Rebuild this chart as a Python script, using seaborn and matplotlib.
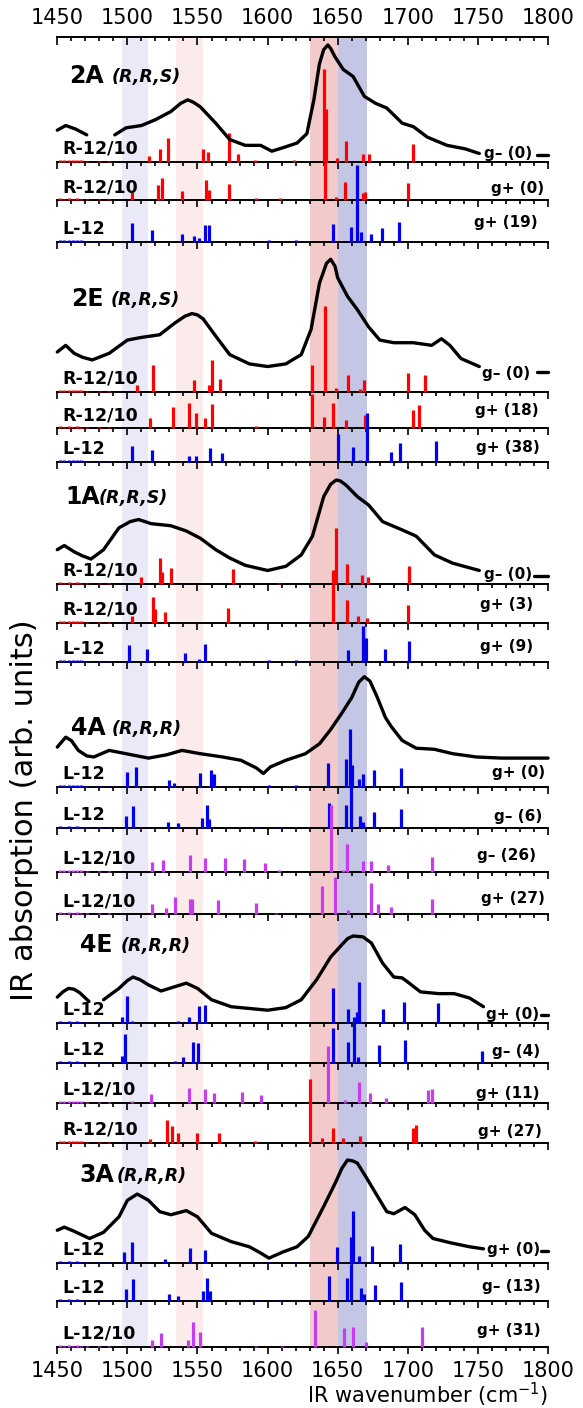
import matplotlib
matplotlib.use("Agg")
import matplotlib.pyplot as plt
from matplotlib.ticker import MultipleLocator
import numpy as np
import pandas as pd
import seaborn as sns

W, H = 583, 1408
X0, X1 = 57.3, 548.0          # pixel position of 1450 and 1800
TOP_AXIS, BOTTOM_AXIS = 36.7, 1347.0
NAN = np.nan

# shaded regions (cm-1)
BAND_LO = [1496, 1535, 1630, 1650]
BAND_HI = [1515, 1554, 1650, 1671]
BAND_COLORS = ["#e9e9f7", "#fcebeb", "#f3caca", "#c3c6e4"]

# weak modes below 1490 cm-1 that show up as a dotted baseline
NOISE = [(1452, 2), (1455, 1.5), (1458, 2), (1461, 1.5), (1464, 2), (1467, 1.5),
         (1471, 1), (1480, 1), (1487, 1)]

RED, BLUE, MAGENTA = "#ff0000", "#0000ee", "#c83cf0"

# ---- experimental spectra (normalised, NaN = gap) ----
X_2A = [1450, 1456, 1463, 1471, NAN, 1491, 1499, 1510, 1520, 1531, 1538, 1543, 1547, 1552,
        1563, 1573, 1584, 1595, 1603, 1611, 1621, 1628, 1633, 1637, 1640, 1643, 1645, 1648,
        1654, 1661, 1669, 1677, 1685, 1696, 1704, 1714, 1728, 1741, 1751, NAN, 1792, 1800]
Y_2A = [0.27, 0.31, 0.28, 0.23, NAN, 0.23, 0.29, 0.31, 0.36, 0.43, 0.50, 0.53, 0.51, 0.47,
        0.33, 0.19, 0.14, 0.14, 0.09, 0.12, 0.16, 0.24, 0.53, 0.84, 0.96, 1.0, 0.97, 0.90,
        0.79, 0.73, 0.56, 0.50, 0.46, 0.33, 0.30, 0.21, 0.14, 0.11, 0.07, NAN, 0.06, 0.06]

X_2E = [1450, 1456, 1462, 1468, 1475, 1487, 1500, 1510, 1523, 1534, 1541, 1546, 1550, 1554,
        1563, 1573, 1587, 1600, 1613, 1624, 1631, 1637, 1642, 1645, 1648, 1650, 1657, 1664,
        1672, 1680, 1690, 1704, 1717, 1724, 1730, 1738, 1751, NAN, 1792, 1800]
Y_2E = [0.30, 0.35, 0.29, 0.26, 0.24, 0.29, 0.39, 0.41, 0.43, 0.52, 0.57, 0.59, 0.58, 0.55,
        0.42, 0.28, 0.21, 0.19, 0.21, 0.28, 0.47, 0.82, 0.97, 1.0, 0.95, 0.86, 0.72, 0.62,
        0.49, 0.39, 0.37, 0.37, 0.35, 0.40, 0.35, 0.25, 0.19, NAN, 0.15, 0.15]

X_1A = [1450, 1455, 1462, 1468, 1474, 1483, 1494, 1502, 1508, 1517, 1531, 1542, 1552, 1563,
        1573, 1584, 1600, 1613, 1624, 1632, 1640, 1645, 1649, 1652, 1656, 1664, 1672, 1682,
        1696, 1706, 1719, 1732, 1751, NAN, 1790, 1800]
Y_1A = [0.33, 0.37, 0.31, 0.27, 0.24, 0.33, 0.54, 0.60, 0.62, 0.58, 0.56, 0.51, 0.44, 0.33,
        0.25, 0.18, 0.13, 0.17, 0.28, 0.46, 0.84, 0.96, 1.0, 0.99, 0.95, 0.84, 0.76, 0.60,
        0.52, 0.46, 0.28, 0.20, 0.13, NAN, 0.08, 0.08]

X_4A = [1450, 1456, 1460, 1465, 1471, 1476, 1487, 1499, 1515, 1528, 1539, 1552, 1568, 1581,
        1592, 1597, 1602, 1613, 1627, 1637, 1645, 1653, 1660, 1665, 1669, 1673, 1678, 1684,
        1688, 1696, 1706, 1719, 1732, 1749, 1767, 1800]
Y_4A = [0.36, 0.45, 0.42, 0.33, 0.28, 0.27, 0.33, 0.30, 0.26, 0.29, 0.33, 0.30, 0.27, 0.24,
        0.17, 0.12, 0.18, 0.24, 0.30, 0.39, 0.52, 0.67, 0.81, 0.95, 1.0, 0.96, 0.82, 0.63,
        0.55, 0.42, 0.35, 0.34, 0.30, 0.27, 0.26, 0.26]

X_4E = [1450, 1454, 1458, 1462, 1466, 1472.6, NAN, 1483, 1494, 1500, 1504, 1509, 1515, 1524,
        1534, 1542, 1550, 1560, 1574, 1587, 1600, 1613, 1624, 1635, 1645, 1653, 1657, 1661,
        1668, 1674, 1682, 1690, 1696, 1701, 1709, 1722, 1733, 1744, 1754, NAN, 1795, 1800]
Y_4E = [0.30, 0.36, 0.40, 0.39, 0.35, 0.25, NAN, 0.27, 0.40, 0.49, 0.53, 0.50, 0.44, 0.37,
        0.42, 0.46, 0.40, 0.27, 0.19, 0.17, 0.15, 0.18, 0.27, 0.50, 0.76, 0.90, 0.97, 1.0,
        0.99, 0.92, 0.69, 0.53, 0.52, 0.46, 0.36, 0.34, 0.34, 0.29, 0.19, NAN, 0.10, 0.10]

X_3A = [1450, 1455, 1462, 1473, 1483, 1494, 1500, 1507, 1515, 1523, 1531, 1542, 1550, 1560,
        1574, 1587, 1595, 1601, 1611, 1621, 1629, 1640, 1648, 1653, 1657, 1661, 1664, 1670,
        1677, 1685, 1690, 1698, 1705, 1712, 1718, 1730, 1744, 1754, NAN, 1795, 1800]
Y_3A = [0.32, 0.35, 0.31, 0.24, 0.30, 0.45, 0.61, 0.67, 0.61, 0.50, 0.47, 0.51, 0.45, 0.29,
        0.21, 0.16, 0.10, 0.05, 0.11, 0.16, 0.26, 0.55, 0.77, 0.92, 1.0, 0.99, 0.97, 0.84,
        0.68, 0.50, 0.48, 0.54, 0.47, 0.32, 0.24, 0.20, 0.16, 0.14, NAN, 0.12, 0.12]

# ---- computed stick spectra (wavenumber, intensity) ----
S_2A_1 = [(1515.6, 6), (1523, 13), (1529, 24), (1553.6, 13), (1557.6, 10), (1572.7, 29),
          (1578.8, 8), (1591, 2), (1619, 2), (1640, 93), (1642, 53), (1649.5, 4), (1656, 21),
          (1667.8, 8), (1672.6, 8), (1703.6, 18)]
S_2A_2 = [(1503, 8), (1521.7, 15), (1525, 22), (1539, 9), (1556, 20), (1558, 10), (1572.4, 16),
          (1592, 2), (1609, 2), (1641, 40), (1649, 3), (1655, 18), (1667.8, 7), (1669.6, 8),
          (1700, 17)]
S_2A_3 = [(1503.6, 19), (1517.7, 12), (1539, 8), (1547.7, 6), (1551, 4), (1555.7, 17),
          (1558.4, 17), (1601, 2), (1620, 2), (1646.5, 18), (1659.8, 15), (1663.7, 77),
          (1666.5, 10), (1674, 8), (1681.8, 14), (1694, 20)]

S_2E_1 = [(1507, 7), (1518.5, 27), (1547.7, 12), (1558, 7), (1560, 32), (1566, 13), (1632, 27),
          (1641, 86), (1649, 4), (1657, 17), (1666, 3), (1669, 12), (1700, 19), (1712, 17)]
S_2E_2 = [(1516, 10), (1532.6, 21), (1543.8, 25), (1549, 15), (1555, 10), (1560.5, 24),
          (1591.5, 2), (1632, 34), (1640, 11), (1647, 25), (1656, 8), (1669.6, 13), (1704, 18),
          (1708, 23)]
S_2E_3 = [(1503, 16), (1517.5, 12), (1544, 6), (1549, 6), (1559, 14), (1567.7, 9), (1650, 28),
          (1661, 15), (1666, 2), (1671, 49), (1688, 10), (1694.6, 19), (1720, 21)]

S_1A_1 = [(1510, 7), (1523, 26), (1525, 12), (1531, 16), (1575, 15), (1608, 1.5), (1647, 14),
          (1648.6, 56), (1656.6, 20), (1667, 9), (1671.8, 7), (1701, 18)]
S_1A_2 = [(1503, 7), (1518, 26), (1520, 14), (1527, 11), (1572, 15), (1647, 39), (1656.8, 23),
          (1664.6, 7), (1670.7, 5), (1700, 18)]
S_1A_3 = [(1501, 17), (1513.7, 13), (1541, 9), (1551, 3), (1555.4, 18), (1601, 1.5),
          (1620, 1.5), (1657, 12), (1667.8, 36), (1670.4, 24), (1684, 13), (1701, 21)]

S_4A_1 = [(1500, 15), (1505.8, 20), (1530, 7), (1533.5, 4), (1551.7, 14), (1559.4, 17),
          (1562, 13), (1601, 1.5), (1620, 1.5), (1643, 24), (1655.8, 28), (1658.5, 58),
          (1660, 22), (1665, 8), (1668, 13), (1675.7, 17), (1695, 19)]
S_4A_2 = [(1499, 12), (1504, 22), (1529, 6), (1536, 5), (1553, 10), (1556.5, 23), (1558, 9),
          (1592, 1.5), (1609, 1.5), (1643.6, 25), (1656, 23), (1659.5, 42), (1665.6, 12),
          (1668, 6), (1676, 16), (1695, 19)]
S_4A_3 = [(1517.7, 10), (1525.7, 12), (1544.8, 17), (1555, 14), (1569.5, 14), (1583, 13),
          (1598.5, 9), (1608, 1.5), (1645, 67), (1654, 2), (1656.6, 28), (1667.8, 11),
          (1674, 11), (1686, 7), (1717, 15)]
S_4A_4 = [(1517.7, 10), (1527.3, 6), (1534, 17), (1544.8, 15), (1546, 15), (1564.5, 14),
          (1592, 11), (1606, 1.5), (1638.5, 28), (1648, 37), (1657, 4), (1673.9, 31),
          (1679, 10), (1688, 7), (1717, 15)]

S_4E_1 = [(1496, 6), (1499.6, 27), (1503, 2), (1536, 2), (1544, 6), (1551, 17), (1555.5, 18),
          (1647, 35), (1657.7, 14), (1661.7, 6), (1663.8, 11), (1665.4, 41), (1682.4, 14),
          (1697, 21), (1721.4, 20)]
S_4E_2 = [(1496.5, 7), (1498.6, 29), (1533.6, 2), (1539.8, 6), (1546.7, 21), (1550.4, 20),
          (1647, 35), (1657.7, 21), (1661.4, 40), (1664.3, 6), (1679.7, 18), (1697.7, 23),
          (1753, 12)]
S_4E_3 = [(1503, 1.5), (1517, 9), (1544, 15), (1555.7, 14), (1562, 10), (1582, 11),
          (1595.5, 8), (1643, 57), (1655.4, 3), (1665.5, 21), (1673, 10), (1684.5, 5),
          (1714.7, 13), (1717, 14)]
S_4E_4 = [(1516, 4), (1528, 23), (1531.5, 17), (1536, 10), (1550, 10), (1565.5, 10),
          (1591, 1.5), (1630, 64), (1639, 5), (1646.5, 15), (1654, 5), (1666, 7), (1704, 15),
          (1705.5, 18)]

S_3A_1 = [(1497.8, 11), (1503, 21), (1527, 4), (1544.3, 15), (1555, 13), (1601, 1.5),
          (1620, 1.5), (1649.7, 16), (1659.3, 26), (1660.6, 52), (1665.4, 7), (1674.4, 17),
          (1694.3, 19)]
S_3A_2 = [(1499, 12), (1504, 22), (1529.7, 7), (1536.3, 5), (1553.6, 10), (1556.8, 23),
          (1559, 10), (1592, 1.5), (1609, 1.5), (1644, 25), (1656.3, 23), (1659.5, 37),
          (1666.5, 13), (1669, 7), (1676.3, 16), (1695, 19)]
S_3A_3 = [(1517.7, 7), (1523.8, 14), (1543.5, 7), (1547, 25), (1551.7, 15), (1592, 1.5),
          (1610, 1.5), (1633.5, 37), (1654.7, 19), (1661, 20), (1670, 5), (1710, 20)]

# panel: name, configuration, curve, rows (label, conformer, color, sticks)
PANELS = [
    ("2A", "(R,R,S)", X_2A, Y_2A, [
        ("R-12/10", "g\u2013 (0)", RED, S_2A_1),
        ("R-12/10", "g+ (0)", RED, S_2A_2),
        ("L-12", "g+ (19)", BLUE, S_2A_3)]),
    ("2E", "(R,R,S)", X_2E, Y_2E, [
        ("R-12/10", "g\u2013 (0)", RED, S_2E_1),
        ("R-12/10", "g+ (18)", RED, S_2E_2),
        ("L-12", "g+ (38)", BLUE, S_2E_3)]),
    ("1A", "(R,R,S)", X_1A, Y_1A, [
        ("R-12/10", "g\u2013 (0)", RED, S_1A_1),
        ("R-12/10", "g+ (3)", RED, S_1A_2),
        ("L-12", "g+ (9)", BLUE, S_1A_3)]),
    ("4A", "(R,R,R)", X_4A, Y_4A, [
        ("L-12", "g+ (0)", BLUE, S_4A_1),
        ("L-12", "g\u2013 (6)", BLUE, S_4A_2),
        ("L-12/10", "g\u2013 (26)", MAGENTA, S_4A_3),
        ("L-12/10", "g+ (27)", MAGENTA, S_4A_4)]),
    ("4E", "(R,R,R)", X_4E, Y_4E, [
        ("L-12", "g+ (0)", BLUE, S_4E_1),
        ("L-12", "g\u2013 (4)", BLUE, S_4E_2),
        ("L-12/10", "g+ (11)", MAGENTA, S_4E_3),
        ("R-12/10", "g+ (27)", RED, S_4E_4)]),
    ("3A", "(R,R,R)", X_3A, Y_3A, [
        ("L-12", "g+ (0)", BLUE, S_3A_1),
        ("L-12", "g\u2013 (13)", BLUE, S_3A_2),
        ("L-12/10", "g+ (31)", MAGENTA, S_3A_3)]),
]

# ---- layout (pixels from top-left) ----
PEAK_Y = [45, 259.3, 480, 676.7, 936, 1160]
BASELINES = [[161.7, 200, 241.7], [391.7, 428, 461.7], [584, 622.7, 661.7],
             [786.7, 828.3, 871.7, 914], [1023.3, 1063.3, 1102.7, 1142.7],
             [1263.3, 1301, 1347]]
TITLE_POS = [(69, 112, 76), (71, 111, 299), (65, 99, 497), (71, 112, 728), (80, 121, 945),
             (79, 117, 1175)]
RIGHT_X = [[532, 544, 538], [530, 539, 540], [532, 533, 533], [545, 542, 536, 545],
           [539, 540, 539, 542], [540, 541, 541]]
RIGHT_DY = [[8, 12, 19], [18, 18, 14], [10, 18, 15], [14, 12, 16, 16], [9, 12, 9, 11],
            [14, 14, 16]]

sns.set_style("ticks")
plt.rcParams["font.family"] = ["DejaVu Sans"]
plt.rcParams.update({"text.color": "black", "axes.edgecolor": "black",
                     "xtick.color": "black", "axes.labelcolor": "black"})


def fx(px):
    return px / W


def fy(py):
    return 1 - py / H


def rect(top, bottom):
    return [fx(X0), fy(bottom), (X1 - X0) / W, (bottom - top) / H]


def xaxis_style(ax):
    ax.set_xlim(1450, 1800)
    ax.xaxis.set_major_locator(MultipleLocator(50))
    ax.xaxis.set_minor_locator(MultipleLocator(10))


fig = plt.figure(figsize=(W / 100, H / 100), dpi=100)

# background: bands + top axis
bg = fig.add_axes(rect(TOP_AXIS, BOTTOM_AXIS))
bg.patch.set_alpha(0)
xaxis_style(bg)
for lo, hi, c in zip(BAND_LO, BAND_HI, BAND_COLORS):
    bg.axvspan(lo, hi, color=c, lw=0, zorder=0)
bg.set_yticks([])
for s in ["left", "right", "bottom"]:
    bg.spines[s].set_visible(False)
bg.spines["top"].set_linewidth(1.4)
bg.xaxis.tick_top()
bg.tick_params(axis="x", which="both", direction="in", top=True, bottom=False,
               labeltop=True, labelbottom=False, width=1.2, labelsize=15, pad=6)
bg.tick_params(axis="x", which="major", length=6)
bg.tick_params(axis="x", which="minor", length=3)

for p, (name, conf, xs, ys, rows) in enumerate(PANELS):
    bases = BASELINES[p]

    # stick spectra
    for r, (label, conformer, color, sticks) in enumerate(rows):
        base = bases[r]
        top = bases[r - 1] if r > 0 else base - 38
        ax = fig.add_axes(rect(top, base))
        ax.patch.set_alpha(0)
        xaxis_style(ax)
        ax.set_ylim(0, base - top)
        pts = NOISE + sticks
        wn = [s[0] for s in pts]
        inten = [s[1] for s in pts]
        ax.vlines(wn, 0, inten, color=color, lw=2.3, clip_on=False, zorder=3)
        ax.set_yticks([])
        for s in ["left", "right", "top"]:
            ax.spines[s].set_visible(False)
        ax.spines["bottom"].set_linewidth(1.4)
        last = p == len(PANELS) - 1 and r == len(rows) - 1
        ax.tick_params(axis="x", which="both", direction="out", width=1.2,
                       labelbottom=last, labelsize=15, pad=5)
        ax.tick_params(axis="x", which="major", length=5)
        ax.tick_params(axis="x", which="minor", length=3)

        fig.text(fx(62), fy(base - 4), label, fontsize=12.5, fontweight="bold",
                 ha="left", va="bottom", zorder=5)
        fig.text(fx(RIGHT_X[p][r]), fy(base - RIGHT_DY[p][r]), conformer, fontsize=11,
                 fontweight="bold", ha="right", va="center", zorder=5)

    # experimental curve
    cax = fig.add_axes(rect(PEAK_Y[p], bases[0]))
    cax.patch.set_alpha(0)
    cax.set_xlim(1450, 1800)
    cax.set_ylim(0, 1)
    df = pd.DataFrame({"wavenumber": xs, "absorption": ys})
    df["segment"] = df["absorption"].isna().cumsum()
    df = df.dropna()
    sns.lineplot(data=df, x="wavenumber", y="absorption", units="segment", estimator=None,
                 sort=False, color="black", lw=2.4, ax=cax, legend=False)
    for line in cax.lines:
        line.set_clip_on(False)
        line.set_solid_joinstyle("round")
    cax.set_axis_off()

    tx, cx, ty = TITLE_POS[p]
    fig.text(fx(tx), fy(ty), name, fontsize=17, fontweight="bold", ha="left", va="center")
    fig.text(fx(cx), fy(ty + 1), conf, fontsize=12.5, fontweight="bold", style="italic",
             ha="left", va="center")

fig.text(fx(25), fy(810), "IR absorption (arb. units)", rotation=90, fontsize=22,
         ha="center", va="center")
fig.text(fx(548), fy(1403), "IR wavenumber (cm$^{-1}$)", fontsize=15, ha="right",
         va="baseline")

fig.savefig("out.png", dpi=100, facecolor="white")
